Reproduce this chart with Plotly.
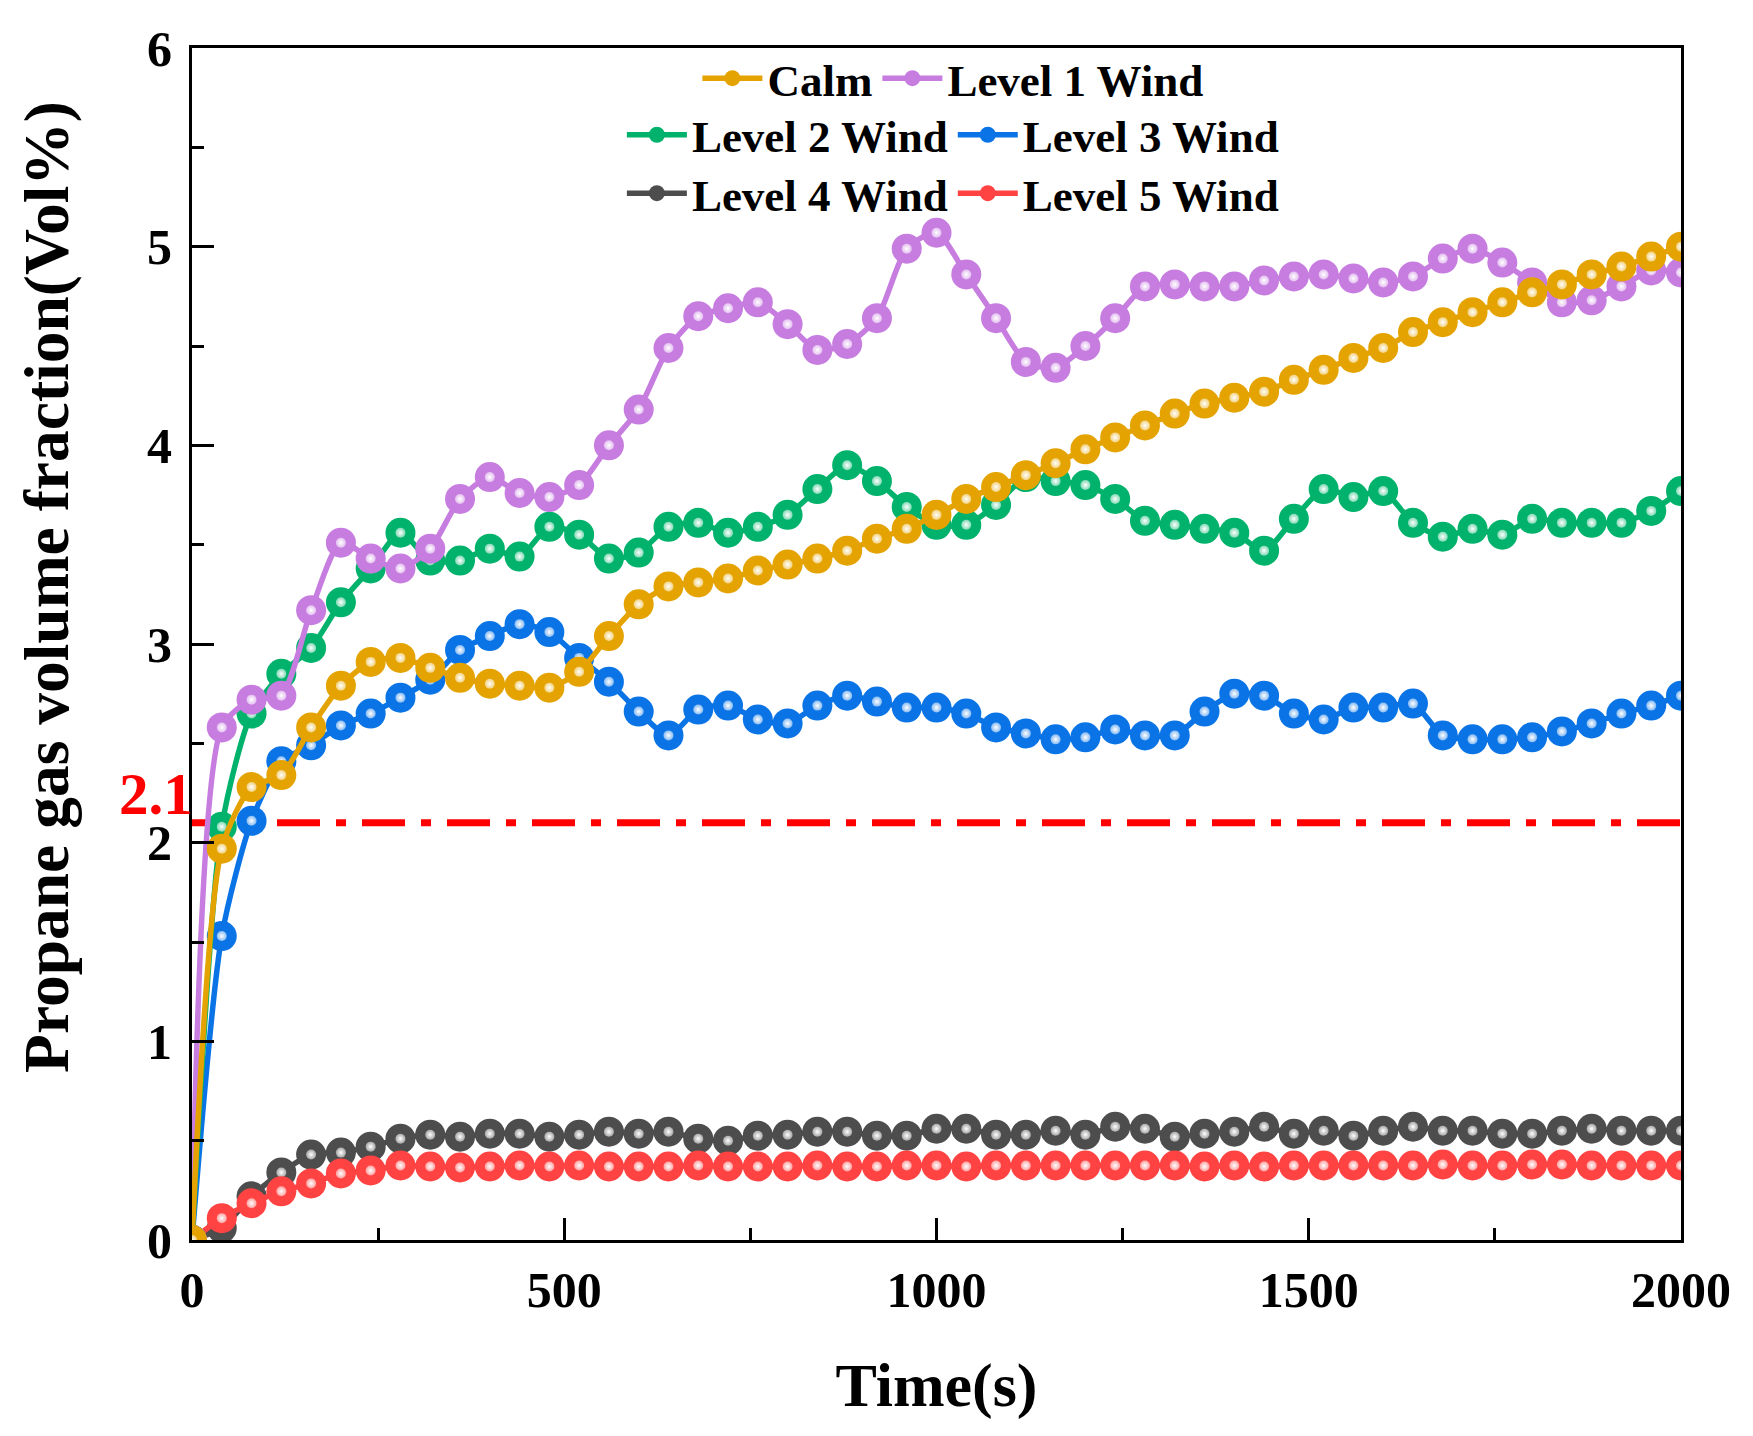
import plotly.graph_objects as go

# sampling times (s), one marker every 40 s
time_s = list(range(0, 2001, 40))

calm = [0, 1.97, 2.28, 2.34, 2.58, 2.79, 2.91, 2.93, 2.88, 2.83,
        2.80, 2.79, 2.78, 2.86, 3.04, 3.20, 3.29, 3.31, 3.33, 3.37,
        3.40, 3.43, 3.47, 3.53, 3.58, 3.65, 3.73, 3.79, 3.85, 3.91,
        3.98, 4.04, 4.10, 4.16, 4.21, 4.24, 4.27, 4.33, 4.38, 4.44,
        4.49, 4.57, 4.62, 4.67, 4.72, 4.77, 4.81, 4.86, 4.90, 4.95, 5.00]

level1 = [0, 2.58, 2.72, 2.74, 3.17, 3.51, 3.43, 3.38, 3.48, 3.73,
          3.84, 3.76, 3.74, 3.80, 4.00, 4.18, 4.49, 4.65, 4.69, 4.72,
          4.61, 4.48, 4.51, 4.64, 4.99, 5.07, 4.86, 4.64, 4.42, 4.39,
          4.50, 4.64, 4.80, 4.81, 4.80, 4.80, 4.83, 4.85, 4.86, 4.84,
          4.82, 4.85, 4.94, 4.99, 4.92, 4.82, 4.72, 4.73, 4.80, 4.88, 4.87]

level2 = [0, 2.08, 2.65, 2.85, 2.98, 3.21, 3.38, 3.56, 3.42, 3.42,
          3.48, 3.44, 3.59, 3.55, 3.43, 3.46, 3.59, 3.61, 3.56, 3.59,
          3.65, 3.78, 3.90, 3.82, 3.69, 3.60, 3.60, 3.70, 3.84, 3.82,
          3.80, 3.73, 3.62, 3.60, 3.58, 3.56, 3.47, 3.63, 3.78, 3.74,
          3.77, 3.61, 3.54, 3.58, 3.55, 3.63, 3.61, 3.61, 3.61, 3.67, 3.77]

level3 = [0, 1.53, 2.11, 2.41, 2.49, 2.59, 2.65, 2.73, 2.82, 2.97,
          3.04, 3.10, 3.06, 2.93, 2.81, 2.66, 2.54, 2.67, 2.69, 2.62,
          2.60, 2.69, 2.74, 2.71, 2.68, 2.68, 2.65, 2.58, 2.55, 2.52,
          2.53, 2.57, 2.54, 2.54, 2.66, 2.75, 2.74, 2.65, 2.62, 2.68,
          2.68, 2.70, 2.54, 2.52, 2.52, 2.53, 2.56, 2.60, 2.65, 2.69, 2.74]

level4 = [0, 0.06, 0.22, 0.34, 0.43, 0.44, 0.47, 0.51, 0.53, 0.52,
          0.535, 0.535, 0.52, 0.53, 0.545, 0.535, 0.545, 0.51, 0.50, 0.525,
          0.53, 0.545, 0.545, 0.525, 0.525, 0.56, 0.56, 0.53, 0.53, 0.55,
          0.53, 0.57, 0.56, 0.52, 0.535, 0.545, 0.57, 0.535, 0.55, 0.525,
          0.55, 0.57, 0.55, 0.55, 0.535, 0.535, 0.55, 0.56, 0.55, 0.55, 0.55]

level5 = [0, 0.11, 0.185, 0.245, 0.285, 0.335, 0.35, 0.375, 0.37, 0.365,
          0.37, 0.375, 0.37, 0.375, 0.37, 0.37, 0.37, 0.375, 0.37, 0.37,
          0.37, 0.375, 0.37, 0.37, 0.375, 0.375, 0.37, 0.375, 0.375, 0.375,
          0.375, 0.375, 0.375, 0.375, 0.37, 0.375, 0.37, 0.375, 0.375, 0.375,
          0.375, 0.375, 0.38, 0.375, 0.375, 0.38, 0.38, 0.375, 0.375, 0.375, 0.375]

lower_limit = 2.1  # propane LEL, Vol%

FONT = "Liberation Serif"

# name, values, line colour, highlight colour, legend row, rank
# listed in drawing order (bottom to top)
series = [
    ("Level 4 Wind", level4, "#4D4D4D", "#A6A6A6", "legend3", 5),
    ("Level 5 Wind", level5, "#FF4343", "#FFA1A1", "legend3", 6),
    ("Level 3 Wind", level3, "#0A74E6", "#85BAF3", "legend2", 4),
    ("Level 2 Wind", level2, "#00B26B", "#80D9B5", "legend2", 3),
    ("Level 1 Wind", level1, "#C77CE0", "#E3BEF0", "legend", 2),
    ("Calm", calm, "#E4A300", "#F2D27F", "legend", 1),
]

fig = go.Figure()

fig.add_hline(y=lower_limit, line_color="#FF0000", line_width=7,
              line_dash="43px,16px,10px,16px", layer="below")

for name, vals, col, hi, leg, rank in series:
    fig.add_trace(go.Scatter(
        x=time_s, y=vals, name=name, mode="lines+markers",
        line=dict(color=col, width=5.5, shape="spline", smoothing=0.7),
        marker=dict(color=col, size=30),
        legend=leg, legendrank=rank))
    # sphere highlight on each marker
    fig.add_trace(go.Scatter(
        x=time_s, y=vals, mode="markers", showlegend=False, hoverinfo="skip",
        marker=dict(color=hi, size=10,
                    gradient=dict(type="radial", color="white"))))

fig.add_annotation(x=0, xref="paper", y=lower_limit, yref="y",
                   text="<b>2.1</b>", showarrow=False, xanchor="right",
                   yanchor="bottom", xshift=3, yshift=-6,
                   font=dict(family=FONT, size=59, color="#FF0000"))

fig.add_annotation(x=-0.1225, xref="paper", y=0.548, yref="paper",
                   text="<b>Propane gas volume fraction(Vol%)</b>",
                   textangle=-90, showarrow=False,
                   font=dict(family=FONT, size=63.5, color="black"))

legend_style = dict(orientation="h", xanchor="center", yanchor="middle",
                    x=0.511, bgcolor="rgba(0,0,0,0)", itemwidth=60,
                    font=dict(family=FONT, size=45, color="black",
                              weight="bold"),
                    tracegroupgap=0)

axis_common = dict(showline=True, linecolor="black", linewidth=3, mirror=True,
                   ticks="inside", tickwidth=3, ticklen=22, tickcolor="black",
                   showgrid=False, zeroline=False,
                   tickfont=dict(family=FONT, size=50, color="black",
                                 weight="bold"))

# the page adds an 8 px body margin, so the figure is 8 px smaller
fig.update_layout(
    width=1745, height=1428,
    margin=dict(l=184, r=72, t=32, b=196),
    paper_bgcolor="white", plot_bgcolor="white",
    font=dict(family=FONT, color="black"),
    legend=dict(legend_style, y=0.9745),
    legend2=dict(legend_style, y=0.927),
    legend3=dict(legend_style, y=0.878),
    xaxis=dict(axis_common, range=[0, 2000], dtick=500, tick0=0,
               tickformat="d", ticklabelstandoff=4,
               minor=dict(dtick=250, ticks="inside", ticklen=12,
                          tickwidth=3, tickcolor="black"),
               title=dict(text="<b>Time(s)</b>", standoff=46,
                          font=dict(family=FONT, size=62, color="black"))),
    yaxis=dict(axis_common, range=[0, 6], dtick=1, tick0=0,
               ticklabelstandoff=7,
               minor=dict(dtick=0.5, ticks="inside", ticklen=12,
                          tickwidth=3, tickcolor="black")),
)

fig.write_html("out.html")
